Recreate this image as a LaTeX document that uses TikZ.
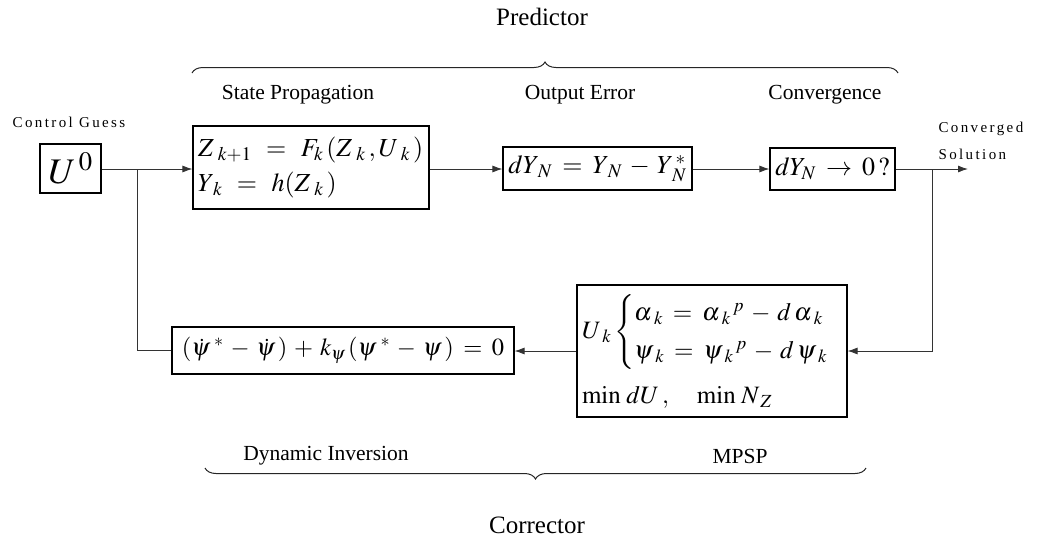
\documentclass[tikz,border=0pt]{standalone}
\usepackage{amsmath}
\usepackage{mathptmx}
\usepackage{fontspec}
\setmainfont{Liberation Serif}
\usetikzlibrary{arrows.meta,decorations.pathreplacing}
\newcommand\mathsp{\thickmuskip=10mu\medmuskip=7mu}
\newcommand\mathspb{\thickmuskip=7mu\medmuskip=5mu}
\begin{document}
\begin{tikzpicture}[x=1pt,y=-1pt,
  box/.style={draw=black, line width=1.1pt, inner xsep=5pt, inner ysep=0pt, anchor=center},
  conn/.style={draw=black!80, line width=0.9pt},
  arr/.style={conn, -{Latex[length=10pt,width=7pt]}},
  lab/.style={font=\fontsize{21.5}{24}\selectfont},
  ttl/.style={font=\fontsize{25}{28}\selectfont},
  sm/.style={font=\fontsize{15}{17}\selectfont\addfontfeature{LetterSpace=16}},
  brc/.style={draw=black!85, line width=1pt, decorate, decoration={brace, amplitude=11pt}},
]
\useasboundingbox (0,0) rectangle (1037,542);

% titles and labels
\node[ttl] (pred) at (542,17) {Predictor};
\node[lab] (lsp) at (298,95) {State Propagation};
\node[lab] (loe) at (580,95) {Output Error};
\node[lab] (lcv) at (825,95) {Convergence};
\node[sm] (lcg) at (69,122) {Control Guess};
\node[sm, anchor=west] (lcs1) at (935,129) {Converged};
\node[sm, anchor=west] (lcs2) at (935,154) {Solution};
\node[lab] (ldi) at (326,456) {Dynamic Inversion};
\node[lab] (lmp) at (740,456) {MPSP};
\node[ttl] (corr) at (537,525) {Corrector};

% braces
\coordinate (tb1) at (192,73);
\coordinate (tb2) at (898,73);
\coordinate (bb1) at (205,468);
\coordinate (bb2) at (866,468);
\draw[brc] (tb1) -- (tb2);
\draw[brc] (bb2) -- (bb1);

% boxes
\node[box, minimum width=61pt, minimum height=49pt, inner xsep=0pt, font=\fontsize{36}{40}\selectfont] (u0) at (70.5,168.5) {$U^{\,0}$};
\node[box, text width=226pt, align=left, minimum height=83pt, font=\fontsize{26}{35}\selectfont\mathsp] (state) at (311,167.5)
  {$Z_{\mkern5mu k+1} = F_{k}\,(Z_{\mkern5mu k}\,, U_{\mkern5mu k}\,)$\\$Y_{\mkern3mu k} = h(Z_{\mkern5mu k}\,)$};
\node[box, text width=179pt, align=center, minimum height=43pt, inner xsep=5pt, font=\fontsize{26}{30}\selectfont\mathspb] (dy) at (597.5,168.5)
  {$dY_{\mkern3mu N} = Y_{\mkern3mu N} - Y_{\mkern3mu N}^{\,*}$};
\node[box, text width=115pt, align=center, minimum height=42pt, font=\fontsize{26}{30}\selectfont\mathspb] (cv) at (832.5,169)
  {$dY_{N} \to 0\,?$};
\node[box, text width=332pt, align=center, minimum height=47pt, font=\fontsize{24.5}{30}\selectfont\mathspb] (dyn) at (343,350.5)
  {$(\dot\psi^{\mkern4mu *} - \dot\psi\,) + k_{\psi}\,(\psi^{\mkern4mu *} - \psi\,) = 0$};
\node[box, text width=260pt, align=left, minimum height=132pt, font=\fontsize{25}{32}\selectfont\mathspb] (mp) at (712,351)
  {$U_{\mkern4mu k}\begin{cases}\alpha_{\mkern4mu k} = {\alpha_{\mkern4mu k}}^{\,p} - d\,\alpha_{\mkern4mu k}\\ \psi_{\mkern4mu k} = {\psi_{\mkern4mu k}}^{\,p} - d\,\psi_{\mkern4mu k}\end{cases}$\\[15pt]
   $\min\, dU\,,\quad \min\, N_{\mkern3mu Z}$};

% connectors
\coordinate (j1) at (137,169);
\coordinate (j2) at (932,169);
\coordinate (out) at (968,169);
\draw[arr] (u0.east |- j1) -- (state.west |- j1);
\draw[arr] (state.east |- j1) -- (dy.west |- j1);
\draw[arr] (dy.east |- j1) -- (cv.west |- j1);
\draw[arr] (cv.east |- j1) -- (out);
\draw[arr] (j2) |- (mp.east);
\draw[arr] (mp.west) -- (mp.west -| dyn.east);
\draw[conn] (dyn.west) -| (j1);
\end{tikzpicture}
\end{document}
